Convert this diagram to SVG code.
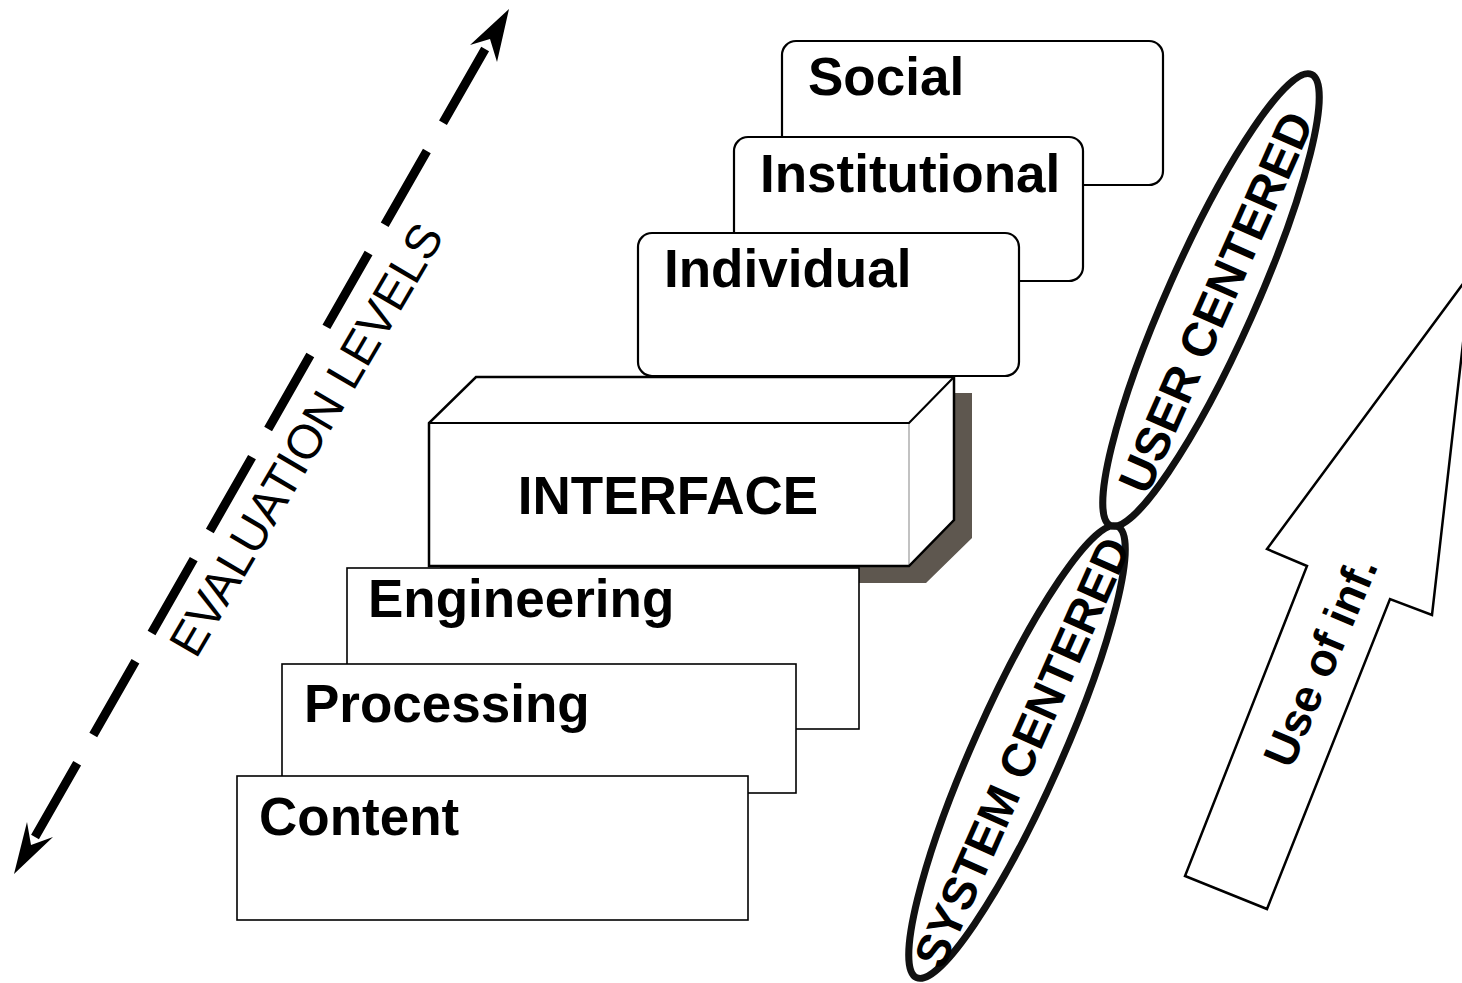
<svg xmlns="http://www.w3.org/2000/svg" width="1462" height="983" viewBox="0 0 1462 983">
<style>
.lbl{font-family:"Liberation Sans",Arial,sans-serif;font-weight:bold;font-size:53px;fill:#000}
.rl{font-family:"Liberation Sans",Arial,sans-serif;font-weight:bold;fill:#000}
.rbox{fill:#fff;stroke:#000;stroke-width:2.2}
.sbox{fill:#fff;stroke:#000;stroke-width:1.6}
.ell{fill:none;stroke:#111;stroke-width:7}
</style>
<rect x="0" y="0" width="1462" height="983" fill="#fff"/>

<g id="connectors">
  <line x1="35" y1="837" x2="492" y2="37" stroke="#000" stroke-width="9" stroke-dasharray="85 32.5"/>
  <polygon points="509,9 497,62 490,39 470,45" fill="#000"/>
  <polygon points="14,874 27,822 31,845 53,837" fill="#000"/>
</g>

<g id="evaluation-levels">
  <text x="196" y="660" transform="rotate(-59.6 196 660)" font-family="Liberation Sans, Arial, sans-serif" font-size="48" fill="#000">EVALUATION LEVELS</text>
</g>

<g id="social">
  <rect class="rbox" x="782" y="41" width="381" height="144" rx="14"/>
  <text class="lbl" x="808" y="95">Social</text>
</g>
<g id="institutional">
  <rect class="rbox" x="734" y="137" width="349" height="144" rx="14"/>
  <text class="lbl" x="760" y="192">Institutional</text>
</g>
<g id="individual">
  <rect class="rbox" x="638" y="233" width="381" height="143" rx="14"/>
  <text class="lbl" x="664" y="287">Individual</text>
</g>

<g id="interface">
  <polygon points="954,393 972,393 972,538 926,583 440,583 440,566 909,566 954,520" fill="#5e574f"/>
  <rect x="429" y="423" width="480" height="143" fill="#fff"/>
  <polygon points="429,423 476,377 954,377 909,423" fill="#fff"/>
  <polygon points="909,423 954,377 954,520 909,566" fill="#fff"/>
  <line x1="909" y1="423" x2="909" y2="566" stroke="#999" stroke-width="1.2"/>
  <polyline points="429,423 909,423 954,377" fill="none" stroke="#000" stroke-width="2.2"/>
  <polygon points="429,566 429,423 476,377 954,377 954,520 909,566" fill="none" stroke="#000" stroke-width="2.5"/>
  <text class="lbl" x="668" y="514" text-anchor="middle">INTERFACE</text>
</g>

<g id="engineering">
  <rect class="sbox" x="347" y="568" width="512" height="161"/>
  <text class="lbl" x="368" y="617">Engineering</text>
</g>
<g id="processing">
  <rect class="sbox" x="282" y="664" width="514" height="129"/>
  <text class="lbl" x="304" y="722">Processing</text>
</g>
<g id="content">
  <rect class="sbox" x="237" y="776" width="511" height="144"/>
  <text class="lbl" x="259" y="835">Content</text>
</g>

<g id="user-centered">
  <ellipse class="ell" cx="1211" cy="300" rx="247" ry="44" transform="rotate(-66 1211 300)"/>
  <text class="rl" font-size="48" x="1231" y="309" text-anchor="middle" transform="rotate(-66 1231 309)">USER CENTERED</text>
</g>
<g id="system-centered">
  <ellipse class="ell" cx="1017" cy="752" rx="247" ry="44" transform="rotate(-66 1017 752)"/>
  <text class="rl" font-size="47" x="1037" y="759" text-anchor="middle" transform="rotate(-66 1037 759)">SYSTEM CENTERED</text>
</g>

<g id="use-of-inf">
  <polygon points="1471,273 1432,615 1390,599 1267,909 1185,876 1307,566 1267,549" fill="#fff" stroke="#000" stroke-width="2.5" stroke-linejoin="miter"/>
  <text class="rl" font-size="46" x="1335" y="668" text-anchor="middle" transform="rotate(-67 1335 668)">Use of inf.</text>
</g>
</svg>
